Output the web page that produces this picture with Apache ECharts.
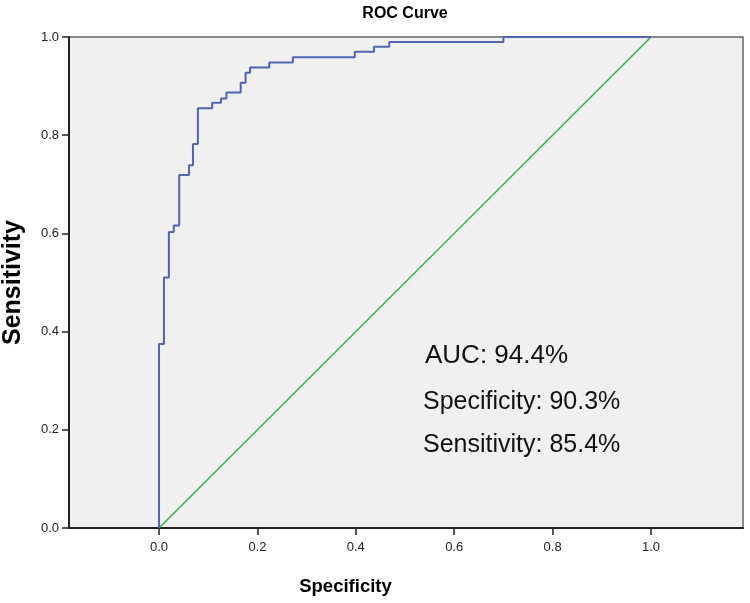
<!DOCTYPE html>
<html>
<head>
<meta charset="utf-8">
<script src="https://cdn.jsdelivr.net/npm/echarts@6/dist/echarts.min.js"></script>
<style>
html,body{margin:0;padding:0;background:#fff;}
#chart{width:750px;height:603px;}
</style>
</head>
<body>
<div id="chart"></div>
<script>
// ROC curve step corners (1 - specificity, sensitivity)
var rocX = [0, 0, 0.010, 0.020, 0.030, 0.041, 0.061, 0.069, 0.079, 0.108, 0.126, 0.137, 0.166, 0.176, 0.185, 0.224, 0.272, 0.398, 0.437, 0.468, 0.700, 1.0];
var rocY = [0, 0.375, 0.510, 0.603, 0.616, 0.719, 0.739, 0.782, 0.855, 0.866, 0.875, 0.887, 0.907, 0.927, 0.938, 0.948, 0.959, 0.970, 0.980, 0.990, 1.0, 1.0];
// Reference line
var refX = [0, 1];
var refY = [0, 1];
// Axis ticks
var xTicks = [0, 0.2, 0.4, 0.6, 0.8, 1.0];
var yTicks = [0, 0.2, 0.4, 0.6, 0.8, 1.0];
// Texts
var titleText = 'ROC Curve';
var xName = 'Specificity';
var yName = 'Sensitivity';
var notes = ['AUC: 94.4%', 'Specificity: 90.3%', 'Sensitivity: 85.4%'];

var chart = echarts.init(document.getElementById('chart'), null, {renderer: 'canvas'});
var FONT = '"Liberation Sans", Arial, sans-serif';

function pairs(xs, ys) { return xs.map(function (x, i) { return [x, ys[i]]; }); }

var option = {
  backgroundColor: '#ffffff',
  animation: false,
  grid: {left: 69, right: 7, top: 37, bottom: 75, containLabel: false, outerBoundsMode: 'none', show: true, backgroundColor: '#f0f0f0', borderColor: '#666', borderWidth: 1.5},
  xAxis: {
    type: 'value', min: -0.183, max: 1.187,
    name: xName, nameLocation: 'middle', nameGap: 49,
    nameTextStyle: {fontFamily: FONT, fontWeight: 'bold', fontSize: 18.5, color: '#000', padding: [0, 121, 0, 0]},
    axisLine: {show: true, onZero: false, lineStyle: {color: '#222', width: 2}},
    axisTick: {show: true, length: 7, customValues: xTicks, lineStyle: {color: '#222', width: 1.5}},
    axisLabel: {customValues: xTicks, margin: 13, fontFamily: FONT, fontSize: 13, color: '#222', formatter: function (v) { return v.toFixed(1); }},
    splitLine: {show: false}
  },
  yAxis: {
    type: 'value', min: 0, max: 1, interval: 0.2,
    name: yName, nameLocation: 'middle', nameGap: 43,
    nameTextStyle: {fontFamily: FONT, fontWeight: 'bold', fontSize: 25, color: '#000'},
    axisLine: {show: true, onZero: false, lineStyle: {color: '#222', width: 2}},
    axisTick: {show: true, length: 7, lineStyle: {color: '#222', width: 1.5}},
    axisLabel: {margin: 10, fontFamily: FONT, fontSize: 13, color: '#222', formatter: function (v) { return v.toFixed(1); }},
    splitLine: {show: false}
  },
  series: [
    {type: 'line', data: pairs(refX, refY), showSymbol: false, lineStyle: {color: '#3fae49', width: 1.5}, z: 2},
    {type: 'line', data: pairs(rocX, rocY), step: 'end', showSymbol: false, lineStyle: {color: '#4f64b2', width: 2}, z: 3}
  ]
};
chart.setOption(option);

var g = [{type: 'text', position: [405, 14], style: {text: titleText, fontFamily: FONT, fontWeight: 'bold', fontSize: 16, fill: '#000', textAlign: 'center', textVerticalAlign: 'middle'}, z: 100}];
var noteY = [356, 402.5, 445.5];
var noteX = [425, 423, 423];
var noteSize = [26, 25, 25];
notes.forEach(function (t, i) {
  g.push({type: 'text', position: [noteX[i], noteY[i]], style: {text: t, fontFamily: FONT, fontSize: noteSize[i], fill: '#111', textAlign: 'left', textVerticalAlign: 'middle'}, z: 100});
});
chart.setOption({graphic: g});
</script>
</body>
</html>
